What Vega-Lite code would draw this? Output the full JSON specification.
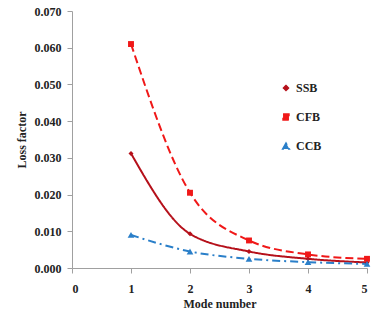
{
  "$schema": "https://vega.github.io/schema/vega-lite/v6.json",
  "autosize": {"type": "none"},
  "padding": {"left": 72, "top": 11, "right": 7, "bottom": 52},
  "width": 295,
  "height": 257,
  "config": {
    "view": {"stroke": null},
    "font": "Liberation Serif",
    "axis": {"grid": false, "domainColor": "#a0a0a0", "tickColor": "#a0a0a0", "labelFont": "Liberation Serif", "titleFont": "Liberation Serif", "labelFontWeight": "bold", "titleFontWeight": "bold", "labelFontSize": 12, "titleFontSize": 12, "labelColor": "#222", "titleColor": "#222"},
    "legend": {"labelFont": "Liberation Serif", "labelFontWeight": "bold", "labelFontSize": 12, "labelColor": "#222"}
  },
  "data": {
    "values": [
      {"mode": 1, "loss": 0.0312, "series": "SSB"},
      {"mode": 2, "loss": 0.0093, "series": "SSB"},
      {"mode": 3, "loss": 0.0045, "series": "SSB"},
      {"mode": 4, "loss": 0.0025, "series": "SSB"},
      {"mode": 5, "loss": 0.0015, "series": "SSB"},
      {"mode": 1, "loss": 0.0610, "series": "CFB"},
      {"mode": 2, "loss": 0.0205, "series": "CFB"},
      {"mode": 3, "loss": 0.0075, "series": "CFB"},
      {"mode": 4, "loss": 0.0037, "series": "CFB"},
      {"mode": 5, "loss": 0.0025, "series": "CFB"},
      {"mode": 1, "loss": 0.0090, "series": "CCB"},
      {"mode": 2, "loss": 0.0045, "series": "CCB"},
      {"mode": 3, "loss": 0.0025, "series": "CCB"},
      {"mode": 4, "loss": 0.0016, "series": "CCB"},
      {"mode": 5, "loss": 0.0011, "series": "CCB"}
    ]
  },
  "encoding": {
    "x": {"field": "mode", "type": "quantitative", "scale": {"domain": [0, 5], "nice": false}, "axis": {"title": "Mode number", "values": [0, 1, 2, 3, 4, 5], "format": "d", "labelPadding": 10, "titlePadding": 4}},
    "y": {"field": "loss", "type": "quantitative", "scale": {"domain": [0, 0.07], "nice": false}, "axis": {"title": "Loss factor", "values": [0, 0.01, 0.02, 0.03, 0.04, 0.05, 0.06, 0.07], "format": ".3f", "labelPadding": 6, "titlePadding": 6}}
  },
  "layer": [
    {
      "mark": {"type": "line", "interpolate": "monotone", "strokeWidth": 2},
      "encoding": {
        "color": {"field": "series", "type": "nominal", "scale": {"domain": ["SSB", "CFB", "CCB"], "range": ["#b5101a", "#f01818", "#2a7fc9"]}},
        "strokeDash": {"field": "series", "type": "nominal", "scale": {"domain": ["SSB", "CFB", "CCB"], "range": [[1, 0], [8, 4], [8, 4, 2, 4]]}, "legend": null}
      }
    },
    {
      "mark": {"type": "point", "filled": true, "opacity": 1},
      "encoding": {
        "color": {"field": "series", "type": "nominal", "legend": {"title": null, "orient": "none", "legendX": 208, "legendY": 71, "rowPadding": 17, "symbolSize": 50}},
        "shape": {"field": "series", "type": "nominal", "scale": {"domain": ["SSB", "CFB", "CCB"], "range": ["diamond", "square", "triangle-up"]}, "legend": {"title": null, "orient": "none", "legendX": 208, "legendY": 71, "rowPadding": 17, "symbolSize": 50}},
        "size": {"field": "series", "type": "nominal", "scale": {"domain": ["SSB", "CFB", "CCB"], "range": [25, 45, 40]}, "legend": null}
      }
    }
  ]
}
